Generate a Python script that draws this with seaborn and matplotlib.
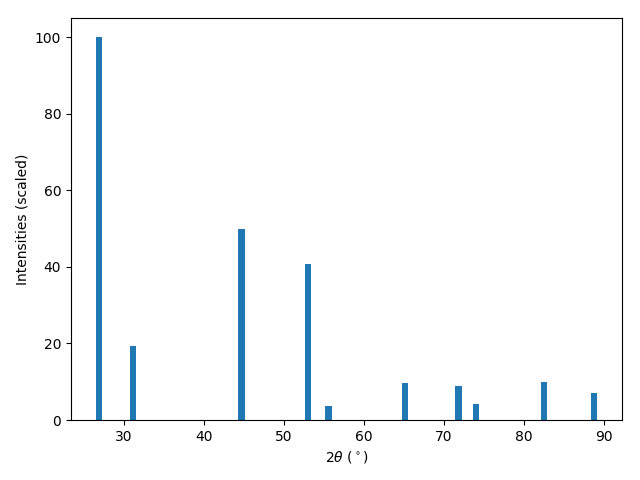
import numpy as np
import pandas as pd
import matplotlib
matplotlib.use("Agg")
import matplotlib.pyplot as plt
import seaborn as sns

two_theta = [26.97, 31.22, 44.72, 53.05, 55.60, 65.16, 71.84, 74.02, 82.46, 88.70]
intensity = [100.0, 19.2, 50.0, 40.8, 3.7, 9.7, 8.9, 4.2, 9.95, 7.1]

df = pd.DataFrame({"two_theta": two_theta, "intensity": intensity})

fig, ax = plt.subplots(figsize=(6.4, 4.8), dpi=100)
min_gap = np.diff(np.sort(df["two_theta"].values)).min()
sns.barplot(data=df, x="two_theta", y="intensity", native_scale=True,
            width=0.8 / min_gap, color="#1f77b4", saturation=1,
            errorbar=None, ax=ax)
ax.set_xlabel(r"2$\theta$ ($^\circ$)")
ax.set_ylabel("Intensities (scaled)")
fig.subplots_adjust(left=71/640, right=622/640, top=1 - 18/480, bottom=60/480)
fig.savefig("out.png", dpi=100)
